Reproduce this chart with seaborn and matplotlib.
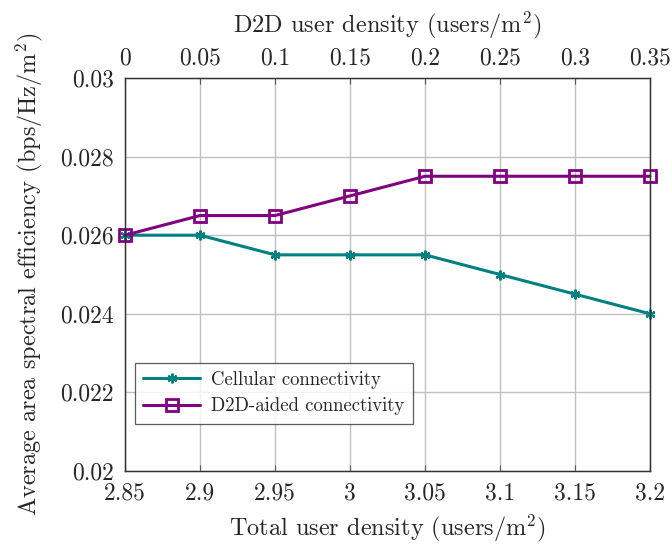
import matplotlib
matplotlib.use("Agg")
import matplotlib.pyplot as plt
import seaborn as sns
import pandas as pd

total_density = [2.85, 2.9, 2.95, 3.0, 3.05, 3.1, 3.15, 3.2]
cellular = [0.026, 0.026, 0.0255, 0.0255, 0.0255, 0.025, 0.0245, 0.024]
d2d_aided = [0.026, 0.0265, 0.0265, 0.027, 0.0275, 0.0275, 0.0275, 0.0275]
y_ticks = [0.02, 0.022, 0.024, 0.026, 0.028, 0.03]
y_labels = ["0.02", "0.022", "0.024", "0.026", "0.028", "0.03"]
x_labels = ["2.85", "2.9", "2.95", "3", "3.05", "3.1", "3.15", "3.2"]
top_ticks = [0, 0.05, 0.1, 0.15, 0.2, 0.25, 0.3, 0.35]
top_labels = ["0", "0.05", "0.1", "0.15", "0.2", "0.25", "0.3", "0.35"]

sns.set_style("white")
plt.rcParams["font.family"] = ["cmr10", "DejaVu Serif"]
plt.rcParams["mathtext.fontset"] = "cm"
plt.rcParams["axes.unicode_minus"] = False

df = pd.DataFrame({"x": total_density, "Cellular connectivity": cellular,
                   "D2D-aided connectivity": d2d_aided})

fig = plt.figure(figsize=(6.72, 5.47), dpi=100)
ax = fig.add_axes([125/672, 1-471/547, 525/672, 393/547])

sns.lineplot(data=df, x="x", y="Cellular connectivity", ax=ax, color="#008080",
             lw=2.2, marker=(6, 2, 0), markersize=7, markeredgewidth=1.6,
             markeredgecolor="#008080", label="Cellular connectivity", clip_on=False, zorder=5)
sns.lineplot(data=df, x="x", y="D2D-aided connectivity", ax=ax, color="#800080",
             lw=2.2, marker="s", markersize=9, markerfacecolor="none",
             markeredgewidth=2, markeredgecolor="#800080",
             label="D2D-aided connectivity", clip_on=False, zorder=6)

ax.set_xlim(2.85, 3.2)
ax.set_ylim(0.02, 0.03)
ax.set_xticks(total_density)
ax.set_xticklabels(x_labels)
ax.set_yticks(y_ticks)
ax.set_yticklabels(y_labels)
ax.grid(True, color="#c0c0c0", lw=1)
ax.tick_params(axis="x", labelsize=17, direction="in", length=4, color="#555555", pad=8)
ax.tick_params(axis="y", labelsize=17, direction="in", length=4, color="#555555", pad=8)
for s in ax.spines.values():
    s.set_color("#333333")
    s.set_linewidth(0.9)
ax.set_xlabel(r"Total user density (users/m$^2$)", fontsize=17.5, labelpad=6)
ax.set_ylabel(r"Average area spectral efficiency (bps/Hz/m$^2$)", fontsize=17.5, labelpad=11)

ax2 = ax.twiny()
ax2.set_xlim(0, 0.35)
ax2.set_xticks(top_ticks)
ax2.set_xticklabels(top_labels)
ax2.tick_params(labelsize=17, direction="in", length=4, color="#555555", pad=6)
ax2.set_xlabel(r"D2D user density (users/m$^2$)", fontsize=17.5, labelpad=11)
for s in ax2.spines.values():
    s.set_color("#333333")
    s.set_linewidth(0.9)

leg = ax.legend(loc="lower left", bbox_to_anchor=(0.019, 0.12), borderaxespad=0,
                fontsize=13.5, frameon=True, fancybox=False, edgecolor="#333333",
                handlelength=3.0, borderpad=0.45, labelspacing=0.45, handletextpad=0.6)
leg.get_frame().set_linewidth(0.9)

fig.savefig("out.png", dpi=100)
